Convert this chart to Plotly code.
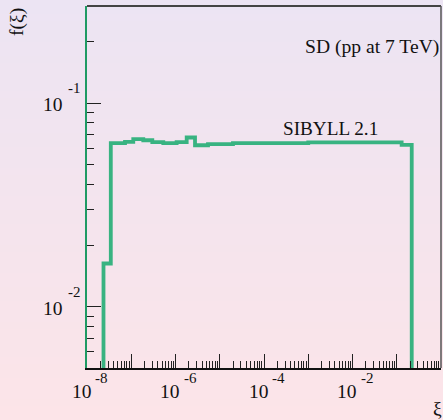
import math
import plotly.graph_objects as go

# ---- data (histogram of xi, log-log) ----
xi_edges = [2.36e-8, 3.45e-8, 7.23e-8, 1.11e-7, 1.87e-7, 2.99e-7, 5.30e-7,
            1.06e-6, 1.79e-6, 2.76e-6, 5.43e-6, 1.99e-5, 1.0e-3, 0.129, 0.218]
f_vals = [0.0163, 0.0636, 0.0645, 0.0665, 0.0657, 0.0643, 0.0636,
          0.0643, 0.0678, 0.0621, 0.0629, 0.0636, 0.0641, 0.0624]

x_label_exps = [-8, -6, -4, -2]
y_label_exps = [-2, -1]
x_range = [1e-8, 1.0]
y_range = [0.005, 0.3]
model_label = "SIBYLL 2.1"
process_label = "SD (pp at 7 TeV)"
x_title = "ξ"
y_title = "f(ξ)"

W, H = 443, 420
ML, MR, MT, MB = 87, 2, 6, 52
PW, PH = W - ML - MR, H - MT - MB
FONT = "Liberation Serif"
HIST_COLOR = "#38b381"

# histogram outline (drops to below the frame at both ends)
floor = y_range[0] * 0.3
xs = [xi_edges[0]] + xi_edges[:-1] + [xi_edges[-1], xi_edges[-1]]
ys = [floor] + f_vals + [f_vals[-1], floor]

fig = go.Figure()
fig.add_trace(go.Scatter(x=xs, y=ys, mode="lines", line_shape="hv",
                         line=dict(color=HIST_COLOR, width=3.8),
                         hoverinfo="skip", showlegend=False))

def px_to_paper(px, py):
    return (px - ML) / PW, (H - MB - py) / PH

# background vertical gradient (lavender top -> pink bottom)
top_c = (236, 228, 243)
bot_c = (252, 228, 232)
shapes = []
n = 60
for i in range(n):
    t = (i + 0.5) / n
    c = tuple(round(top_c[k] + (bot_c[k] - top_c[k]) * t) for k in range(3))
    y0p = H * i / n
    y1p = H * (i + 1) / n + 0.8
    x0, ya = px_to_paper(0, y0p)
    x1, yb = px_to_paper(W, y1p)
    shapes.append(dict(type="rect", xref="paper", yref="paper", x0=x0, x1=x1,
                       y0=yb, y1=ya, line=dict(width=0),
                       fillcolor="rgb(%d,%d,%d)" % c, layer="below"))
# frame top and right
shapes.append(dict(type="line", xref="paper", yref="paper", x0=0, x1=1, y0=1, y1=1,
                   line=dict(color="#444444", width=2)))
shapes.append(dict(type="line", xref="paper", yref="paper", x0=1, x1=1, y0=0, y1=1,
                   line=dict(color="#555555", width=1.5)))

lx0, lx1 = int(math.floor(math.log10(x_range[0]))), int(math.ceil(math.log10(x_range[1])))
ly0, ly1 = int(math.floor(math.log10(y_range[0]))), int(math.ceil(math.log10(y_range[1])))
x_major = [10.0 ** e for e in range(lx0, lx1 + 1)]
x_minor = [m * 10.0 ** e for e in range(lx0, lx1) for m in range(2, 10)]
y_major = [10.0 ** e for e in range(ly0, ly1 + 1)]
y_minor = [m * 10.0 ** e for e in range(ly0, ly1) for m in range(2, 10)]

annotations = []
for e in x_label_exps:
    annotations.append(dict(x=e, xref="x", y=0, yref="paper", text="10",
                            xanchor="center", yanchor="middle", xshift=-5.5, yshift=-23,
                            showarrow=False, font=dict(family=FONT, size=19.5, color="#111")))
    annotations.append(dict(x=e, xref="x", y=0, yref="paper", text=str(e),
                            xanchor="center", yanchor="middle", xshift=14.5, yshift=-10,
                            showarrow=False, font=dict(family=FONT, size=15, color="#111")))
for e in y_label_exps:
    annotations.append(dict(x=0, xref="paper", y=e, yref="y", text="10",
                            xanchor="center", yanchor="middle", xshift=-34.5, yshift=-1.5,
                            showarrow=False, font=dict(family=FONT, size=19.5, color="#111")))
    annotations.append(dict(x=0, xref="paper", y=e, yref="y", text=str(e),
                            xanchor="center", yanchor="middle", xshift=-13, yshift=15,
                            showarrow=False, font=dict(family=FONT, size=15, color="#111")))

ax, ay = px_to_paper(17, 22)
annotations.append(dict(x=ax, y=ay, xref="paper", yref="paper", text=y_title, textangle=-90,
                        xanchor="center", yanchor="middle", showarrow=False,
                        font=dict(family=FONT, size=19.5, color="#111")))
ax, ay = px_to_paper(437.5, 408)
annotations.append(dict(x=ax, y=ay, xref="paper", yref="paper", text=x_title,
                        xanchor="center", yanchor="middle", showarrow=False,
                        font=dict(family=FONT, size=19.5, color="#111")))
ax, ay = px_to_paper(441, 47)
annotations.append(dict(x=ax, y=ay, xref="paper", yref="paper", text=process_label,
                        xanchor="right", yanchor="middle", showarrow=False,
                        font=dict(family=FONT, size=19.6, color="#111")))
ax, ay = px_to_paper(330.5, 128)
annotations.append(dict(x=ax, y=ay, xref="paper", yref="paper", text=model_label,
                        xanchor="center", yanchor="middle", showarrow=False,
                        font=dict(family=FONT, size=19.2, color="#111")))

fig.update_layout(
    width=W, height=H,
    margin=dict(l=ML, r=MR, t=MT, b=MB, pad=0),
    paper_bgcolor="rgb(244,228,238)",
    plot_bgcolor="rgba(0,0,0,0)",
    showlegend=False,
    shapes=shapes,
    annotations=annotations,
    xaxis=dict(type="log", range=[math.log10(x_range[0]), math.log10(x_range[1])],
               showgrid=False, zeroline=False, showline=True, linecolor="#111", linewidth=2,
               ticks="inside", ticklen=14, tickwidth=1, tickcolor="#222",
               tickmode="array", tickvals=x_major, showticklabels=False,
               minor=dict(tickmode="array", tickvals=x_minor, ticks="inside", ticklen=7,
                          tickwidth=1, tickcolor="#222", showgrid=False)),
    yaxis=dict(type="log", range=[math.log10(y_range[0]), math.log10(y_range[1])],
               showgrid=False, zeroline=False, showline=True, linecolor="#1f9a64", linewidth=2,
               ticks="inside", ticklen=14, tickwidth=1, tickcolor="#222",
               tickmode="array", tickvals=y_major, showticklabels=False,
               minor=dict(tickmode="array", tickvals=y_minor, ticks="inside", ticklen=7,
                          tickwidth=1, tickcolor="#222", showgrid=False)),
)

fig.write_html("out.html", config={"displayModeBar": False},
               post_script="document.body.style.margin='0px';document.body.style.overflow='hidden';")
